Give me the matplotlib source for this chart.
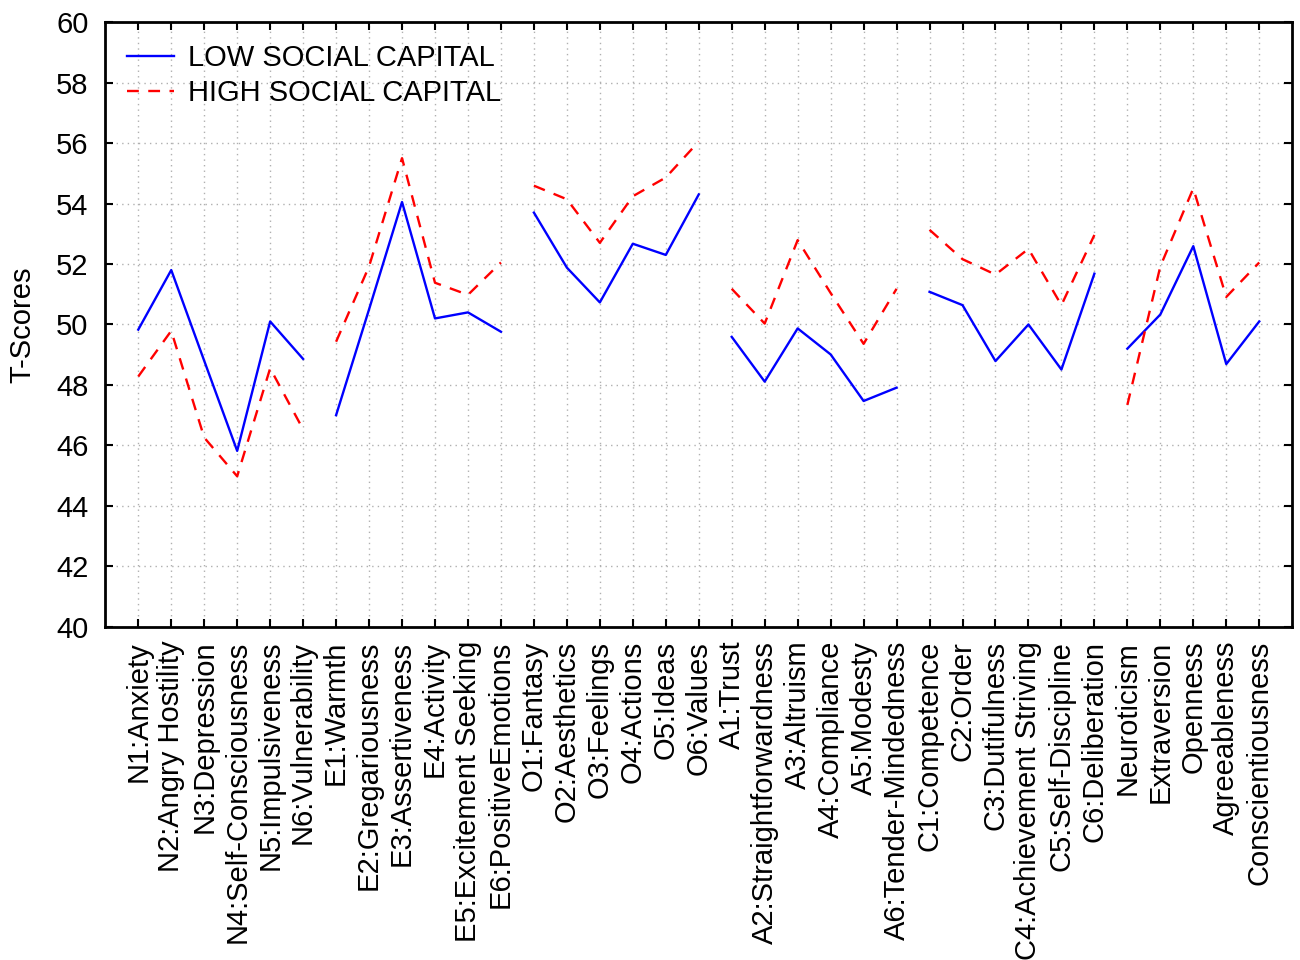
import numpy as np
import matplotlib
matplotlib.use('Agg')
import matplotlib.pyplot as plt

plt.rcParams['font.family'] = ['Liberation Sans', 'DejaVu Sans']

# NEO-PI-R facets and domains, split into the groups that are drawn as separate lines
groups = [
    ['N1:Anxiety', 'N2:Angry Hostility', 'N3:Depression', 'N4:Self-Consciousness',
     'N5:Impulsiveness', 'N6:Vulnerability'],
    ['E1:Warmth', 'E2:Gregariousness', 'E3:Assertiveness', 'E4:Activity',
     'E5:Excitement Seeking', 'E6:PositiveEmotions'],
    ['O1:Fantasy', 'O2:Aesthetics', 'O3:Feelings', 'O4:Actions', 'O5:Ideas', 'O6:Values'],
    ['A1:Trust', 'A2:Straightforwardness', 'A3:Altruism', 'A4:Compliance',
     'A5:Modesty', 'A6:Tender-Mindedness'],
    ['C1:Competence', 'C2:Order', 'C3:Dutifulness', 'C4:Achievement Striving',
     'C5:Self-Discipline', 'C6:Deliberation'],
    ['Neuroticism', 'Extraversion', 'Openness', 'Agreeableness', 'Conscientiousness'],
]

low_social = [
    49.83, 51.8, 48.8, 45.82, 50.1, 48.86,
    47.0, 50.5, 54.05, 50.2, 50.4, 49.76,
    53.7, 51.88, 50.73, 52.67, 52.3, 54.3,
    49.59, 48.11, 49.87, 49.01, 47.47, 47.91,
    51.08, 50.64, 48.79, 50.0, 48.51, 51.68,
    49.2, 50.33, 52.59, 48.69, 50.1,
]

high_social = [
    48.28, 49.79, 46.26, 44.98, 48.55, 46.53,
    49.43, 51.92, 55.5, 51.38, 50.98, 52.05,
    54.59, 54.14, 52.7, 54.24, 54.86, 56.05,
    51.18, 50.03, 52.79, 51.04, 49.36, 51.18,
    53.13, 52.16, 51.65, 52.5, 50.64, 52.96,
    47.34, 51.92, 54.5, 50.91, 52.05,
]

labels = [name for g in groups for name in g]
low = np.array(low_social)
high = np.array(high_social)

fig = plt.figure(figsize=(13, 9.6), dpi=100)
ax = fig.add_axes([0.081, 0.347, 0.913, 0.63])

start = 0
for i, g in enumerate(groups):
    idx = np.arange(start, start + len(g))
    ax.plot(idx, low[idx], color='blue', lw=1.7, ls='-',
            label='LOW SOCIAL CAPITAL' if i == 0 else None)
    ax.plot(idx, high[idx], color='red', lw=1.7, ls=(0, (5, 4)),
            label='HIGH SOCIAL CAPITAL' if i == 0 else None)
    start += len(g)

ax.set_xlim(-1, len(labels))
ax.set_ylim(40, 60)
ax.set_yticks(np.arange(40, 61, 2))
ax.set_xticks(np.arange(len(labels)))
ax.set_xticklabels(labels, rotation=90, fontsize=21)
ax.tick_params(axis='y', labelsize=21, pad=12)
ax.tick_params(axis='x', pad=10)
ax.tick_params(direction='in', top=True, right=True, length=6, width=1.5)
ax.set_ylabel('T-Scores', fontsize=21, labelpad=14)
ax.grid(True, ls=(0, (1, 3)), color='#b0b0b0', lw=1)
for s in ax.spines.values():
    s.set_linewidth(2)

ax.legend(loc='upper left', frameon=False, fontsize=21, handlelength=1.6,
          handletextpad=0.5, labelspacing=0.25, borderpad=0.3, borderaxespad=0.45)

fig.savefig('out.png')
